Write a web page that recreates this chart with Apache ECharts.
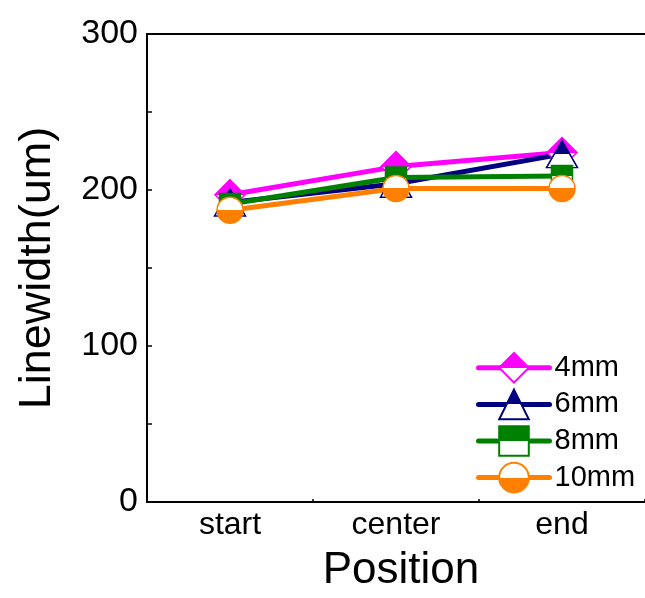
<!DOCTYPE html>
<html><head><meta charset="utf-8">
<script src="https://cdn.jsdelivr.net/npm/echarts@6/dist/echarts.min.js"></script>
<style>html,body{margin:0;padding:0;background:#fff}#c{width:645px;height:598px}</style>
</head><body><div id="c"></div>
<script>
var categories = ['start', 'center', 'end'];
var s4mm = [197, 215, 224];
var s6mm = [192, 204, 223];
var s8mm = [191, 208, 209];
var s10mm = [187, 201, 201];
var seriesNames = ['4mm', '6mm', '8mm', '10mm'];
var yTicks = [0, 100, 200, 300];

var FONT = '"Liberation Sans", Arial, sans-serif';
function half(c, topFilled) {
  var a = topFilled ? c : '#fff', b = topFilled ? '#fff' : c;
  return {type: 'linear', x: 0, y: 0, x2: 0, y2: 1, colorStops: [
    {offset: 0, color: a}, {offset: 0.5, color: a}, {offset: 0.5, color: b}, {offset: 1, color: b}]};
}
function mk(name, data, color, symbol, size, topFilled) {
  return {
    name: name, type: 'line', data: data, symbol: symbol, symbolSize: size,
    lineStyle: {color: color, width: 5, cap: 'round', join: 'round'},
    itemStyle: {color: half(color, topFilled), borderColor: color, borderWidth: 1.5},
    emphasis: {disabled: true}, animation: false
  };
}
var chart = echarts.init(document.getElementById('c'));
chart.setOption({
  animation: false,
  grid: {left: 147, top: 34, width: 504, height: 469},
  legend: {
    orient: 'vertical', left: 476, top: 352, itemWidth: 71, itemHeight: 37, itemGap: 5,
    padding: 0, textStyle: {fontFamily: FONT, fontSize: 29, color: '#000'},
    lineStyle: {width: 5, cap: 'round'},
    data: seriesNames
  },
  xAxis: [{
    type: 'category', data: categories, boundaryGap: true, position: 'bottom',
    axisLine: {lineStyle: {color: '#000', width: 2}},
    axisTick: {inside: true, length: 10, alignWithLabel: true, lineStyle: {color: '#000', width: 1.5}},
    axisLabel: {fontFamily: FONT, fontSize: 32, color: '#000', margin: 7},
    name: 'Position', nameLocation: 'middle', nameGap: 47,
    nameTextStyle: {fontFamily: FONT, fontSize: 44, color: '#000', padding: [0, 0, 0, 10]}
  }, {
    type: 'category', data: categories, position: 'top',
    axisLine: {lineStyle: {color: '#000', width: 2}},
    axisTick: {show: false}, axisLabel: {show: false}
  }, {
    type: 'category', data: ['', '', '', ''], boundaryGap: false, position: 'bottom',
    axisLine: {show: false},
    axisTick: {inside: true, length: 3, lineStyle: {color: '#000', width: 1.5}},
    axisLabel: {show: false}
  }],
  yAxis: {
    type: 'value', min: yTicks[0], max: yTicks[yTicks.length - 1], interval: 100,
    axisLine: {show: true, lineStyle: {color: '#000', width: 2}},
    axisTick: {show: true, inside: true, length: 5, lineStyle: {color: '#000', width: 1.5}},
    minorTick: {show: true, splitNumber: 2, length: 5, lineStyle: {color: '#000', width: 1.5}},
    splitLine: {show: false},
    axisLabel: {fontFamily: FONT, fontSize: 34, color: '#000', margin: 9},
    name: 'Linewidth(um)', nameLocation: 'middle', nameGap: 87,
    nameTextStyle: {fontFamily: FONT, fontSize: 45, color: '#000'}
  },
  series: [
    mk(seriesNames[0], s4mm, '#ff00ff', 'diamond', [30, 30], true),
    mk(seriesNames[1], s6mm, '#000080', 'triangle', [31, 27], true),
    mk(seriesNames[2], s8mm, '#008000', 'rect', [21, 21], true),
    mk(seriesNames[3], s10mm, '#ff8000', 'circle', 26, false)
  ]
});
</script></body></html>
